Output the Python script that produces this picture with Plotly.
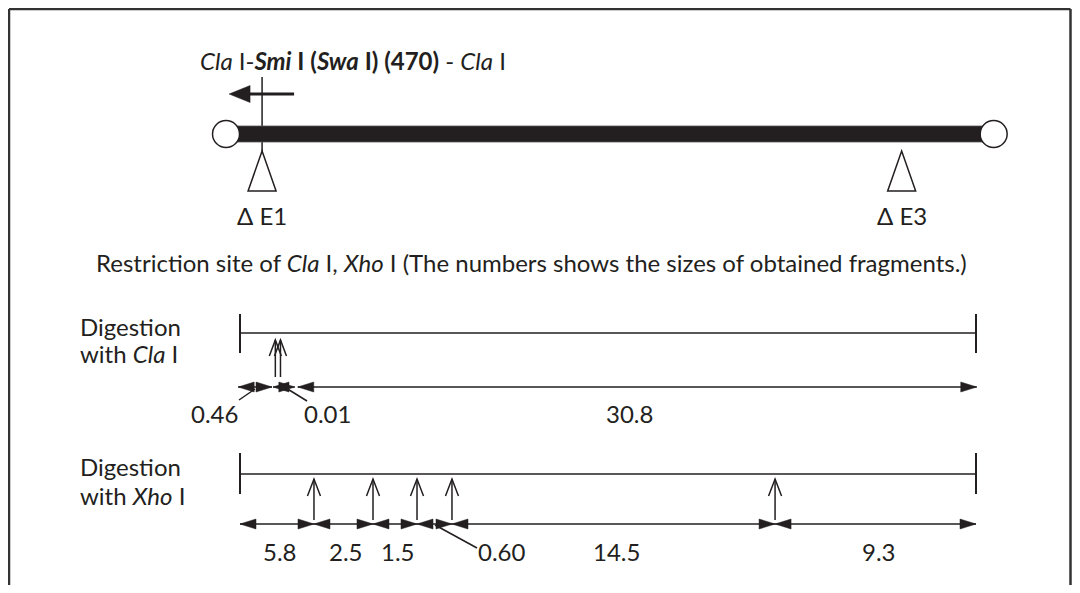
import plotly.graph_objects as go

# ---------------- data (map units: 0 = left end of map line, 100 = right end) -------------
map_start, map_end = 0.0, 100.0
chromosome_ends = [-1.9, 102.4]            # terminal circles of the top map
deletion_names = ["Δ E1", "Δ E3"]
deletion_pos = [3.0, 89.9]
smi_site = 3.0                              # Cla I-Smi I (Swa I) (470) - Cla I insertion
cla_sites = [4.8, 5.5]
cla_fragment_labels = ["0.46", "0.01", "30.8"]
cla_fragment_extents = [(-0.25, 4.35), (4.48, 7.45), (7.85, 100.1)]
xho_sites = [10.05, 18.07, 24.05, 28.8, 72.7]
xho_fragment_labels = ["5.8", "2.5", "1.5", "0.60", "14.5", "9.3"]

title_text = "<i>Cla</i> I-<b><i>Smi</i> I (<i>Swa</i> I) (470)</b> - <i>Cla</i> I"
restriction_text = ("Restriction site of <i>Cla</i> I, <i>Xho</i> I "
                    "(The numbers shows the sizes of obtained fragments.)")
cla_row_label = ["Digestion", "with <i>Cla</i> I"]
xho_row_label = ["Digestion", "with <i>Xho</i> I"]

# ---------------- layout / style -------------
OFF = 8                      # page margin around the figure div
FW, FH = 1064, 577           # figure size
PX_PER_UNIT = 7.36
X0_PX = 240                  # page x of map_start
INK = "#231f20"
FONT = "Lato"
FS = 24

def du(px):
    return px / PX_PER_UNIT

def ux(page_px):
    return (page_px - X0_PX) / PX_PER_UNIT

shapes = []
annotations = []

def line(x0, y0, x1, y1, w=1.5):
    shapes.append(dict(type="line", xref="x", yref="y", x0=x0, y0=y0, x1=x1, y1=y1,
                       line=dict(color=INK, width=w)))

def path(d, fill=None, w=1.5):
    shapes.append(dict(type="path", xref="x", yref="y", path=d,
                       fillcolor=fill if fill else "rgba(0,0,0,0)",
                       line=dict(color=INK, width=w)))

def head(xt, y, direction, L=16, h=5):
    xb = xt - direction * du(L)
    path(f"M {xt},{y} L {xb},{y - h} L {xb},{y + h} Z", fill=INK, w=0.5)

def dim(a, b, y):
    line(a, y, b, y, 1.3)
    head(a, y, -1)
    head(b, y, +1)

def up_arrow(x, ytop, ybot, hw=6.5, L=17):
    line(x, ytop, x, ybot, 1.5)
    path(f"M {x - du(hw)},{ytop + L} L {x},{ytop} L {x + du(hw)},{ytop + L}", w=1.5)

def text(x, y, s, anchor="center", size=FS):
    annotations.append(dict(x=x, y=y, xref="x", yref="y", text=s, showarrow=False,
                            xanchor=anchor, yanchor="middle",
                            font=dict(family=FONT, size=size, color=INK)))

# --- top chromosome map ---
Y = dict(title=60, arrow=94, smi_top=77, chrom=134, bar_half=8, r=13.5,
         tri_top=151, tri_bot=191, tri_half=14, del_label=215, restr=262)
text(ux(198), Y["title"], title_text, anchor="left")
line(smi_site, Y["smi_top"], smi_site, Y["tri_top"], 1.5)
line(smi_site + du(32), Y["arrow"], smi_site - du(14), Y["arrow"], 3)
head(smi_site - du(33), Y["arrow"], -1, L=21, h=8.5)
shapes.append(dict(type="rect", xref="x", yref="y", x0=chromosome_ends[0], x1=chromosome_ends[1],
                   y0=Y["chrom"] - Y["bar_half"], y1=Y["chrom"] + Y["bar_half"],
                   fillcolor=INK, line=dict(color="#555", width=0.8)))
for c in chromosome_ends:
    shapes.append(dict(type="circle", xref="x", yref="y",
                       x0=c - du(Y["r"]), x1=c + du(Y["r"]),
                       y0=Y["chrom"] - Y["r"], y1=Y["chrom"] + Y["r"],
                       fillcolor="white", line=dict(color=INK, width=1.5)))
for name, p in zip(deletion_names, deletion_pos):
    path(f"M {p},{Y['tri_top']} L {p - du(Y['tri_half'])},{Y['tri_bot']} "
         f"L {p + du(Y['tri_half'])},{Y['tri_bot']} Z", fill="white", w=1.5)
    text(p, Y["del_label"], name)
text(ux(531), Y["restr"], restriction_text)

LABEL_X = ux(78)

# --- Cla I digestion ---
C = dict(l1=326, l2=353, line=333, tick_top=314, tick_bot=353, a_top=340, a_bot=377,
         dim=387, lab=413)
text(LABEL_X, C["l1"], cla_row_label[0], anchor="left")
text(LABEL_X, C["l2"], cla_row_label[1], anchor="left")
line(map_start, C["line"], map_end, C["line"], 1.5)
line(map_start, C["tick_top"], map_start, C["tick_bot"], 2)
line(map_end, C["tick_top"], map_end, C["tick_bot"], 2)
for s in cla_sites:
    up_arrow(s, C["a_top"], C["a_bot"], hw=6, L=16)
for a, b in cla_fragment_extents:
    dim(a, b, C["dim"])
cla_callouts = {0: dict(lx=ux(214), p0=(ux(255), 389), p1=(ux(239), 400)),
                1: dict(lx=ux(327), p0=(ux(286), 388), p1=(ux(307), 401))}
for i, lab in enumerate(cla_fragment_labels):
    a, b = cla_fragment_extents[i]
    if i in cla_callouts:
        co = cla_callouts[i]
        line(co["p0"][0], co["p0"][1], co["p1"][0], co["p1"][1], 1.5)
        text(co["lx"], C["lab"], lab)
    else:
        text((a + b) / 2 - du(8), C["lab"], lab)

# --- Xho I digestion ---
X = dict(l1=466, l2=495, line=474, tick_top=453, tick_bot=494, a_top=479, a_bot=520,
         dim=524, lab=551)
text(LABEL_X, X["l1"], xho_row_label[0], anchor="left")
text(LABEL_X, X["l2"], xho_row_label[1], anchor="left")
line(map_start, X["line"], map_end, X["line"], 1.5)
line(map_start, X["tick_top"], map_start, X["tick_bot"], 2)
line(map_end, X["tick_top"], map_end, X["tick_bot"], 2)
for s in xho_sites:
    up_arrow(s, X["a_top"], X["a_bot"])
bounds = [map_start] + xho_sites + [map_end]
for i in range(len(bounds) - 1):
    dim(bounds[i], bounds[i + 1], X["dim"])
xho_callouts = {3: dict(lx=ux(502), p0=(ux(435), 525), p1=(ux(477), 548))}
for i, lab in enumerate(xho_fragment_labels):
    a, b = bounds[i], bounds[i + 1]
    if i in xho_callouts:
        co = xho_callouts[i]
        line(co["p0"][0], co["p0"][1], co["p1"][0], co["p1"][1], 1.5)
        text(co["lx"], X["lab"], lab)
    else:
        text((a + b) / 2 + du(3), X["lab"], lab)

# --- frame (top, left, right edges), figure-pixel coordinates ---
RX = FW - 1.5
for (xa, ya, xb, yb) in [(1, 1, RX, 1), (1, 1, 1, FH + 5), (RX, 1, RX, FH + 5)]:
    shapes.append(dict(type="line", xref="paper", yref="paper",
                       x0=xa / FW, x1=xb / FW, y0=1 - ya / FH, y1=1 - yb / FH,
                       line=dict(color="#333333", width=2.5)))

fig = go.Figure(go.Scatter(x=[], y=[]))
fig.update_layout(
    width=FW, height=FH, margin=dict(l=0, r=0, t=0, b=0),
    paper_bgcolor="white", plot_bgcolor="white", showlegend=False,
    xaxis=dict(range=[ux(OFF), ux(OFF + FW)], visible=False, fixedrange=True),
    yaxis=dict(range=[OFF + FH, OFF], visible=False, fixedrange=True),
    shapes=shapes, annotations=annotations,
)
fig.write_html("out.html")
